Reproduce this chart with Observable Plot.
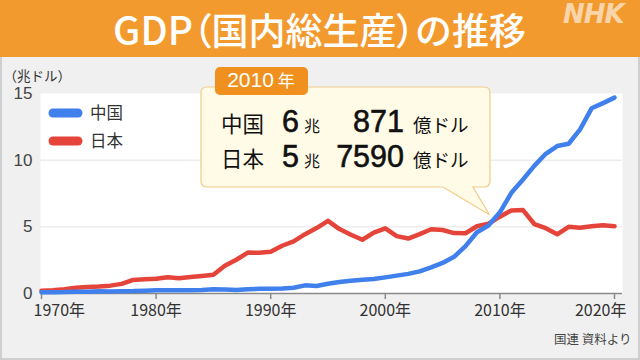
<!DOCTYPE html>
<html><head><meta charset="utf-8">
<script src="https://cdn.jsdelivr.net/npm/d3@7"></script>
<script src="https://cdn.jsdelivr.net/npm/@observablehq/plot@0.6"></script>
<style>
body{margin:0;background:#f0f0f0;}
#wrap{position:relative;width:640px;height:360px;background:#f0f0f0;overflow:hidden;font-family:"Noto Sans CJK JP","Noto Sans",sans-serif;}
#header{position:absolute;left:0;top:0;width:640px;height:57px;background:#f39a2f;}
#title{position:absolute;left:0;top:0;width:639px;height:56px;line-height:56px;text-align:center;color:#fff;font-size:37px;font-weight:500;white-space:nowrap;}
#title .p{font-feature-settings:"palt";}
#title .lat{font-size:39px;}
#nhk{position:absolute;left:563px;top:-1px;color:rgba(255,255,255,0.6);font:italic 900 26px "DejaVu Sans",sans-serif;letter-spacing:-1px;}
#chart{position:absolute;left:0;top:57px;}
#frameBorder{position:absolute;left:0;top:57px;width:640px;height:303px;box-sizing:border-box;border:2px solid #cfcfcf;border-top:none;pointer-events:none;}
#overlay{position:absolute;left:0;top:0;pointer-events:none;}
</style>
</head><body>
<div id="wrap">
  <div id="header"><div id="title"><span class="lat">GDP</span><span class="p">（</span>国内総生産<span class="p">）</span>の推移</div><div id="nhk">NHK</div></div>
  <div id="chart"></div>
  <div id="frameBorder"></div>
</div>
<script>
// ---- data (trillion US$) ----
const years = d3.range(1970, 2021);
const china = [0.09,0.10,0.11,0.14,0.14,0.16,0.15,0.17,0.18,0.21,
               0.24,0.25,0.24,0.25,0.27,0.31,0.30,0.27,0.31,0.35,
               0.36,0.38,0.43,0.61,0.56,0.73,0.86,0.96,1.03,1.09,
               1.21,1.34,1.47,1.66,1.96,2.29,2.75,3.55,4.59,5.10,
               6.09,7.55,8.53,9.57,10.48,11.06,11.23,12.31,13.89,14.28,
               14.69];
const japan = [0.21,0.24,0.32,0.43,0.48,0.52,0.59,0.72,1.02,1.06,
               1.10,1.22,1.14,1.24,1.32,1.40,2.08,2.53,3.07,3.05,
               3.13,3.58,3.91,4.45,4.91,5.45,4.83,4.41,4.03,4.56,
               4.89,4.30,4.12,4.45,4.82,4.76,4.53,4.52,5.04,5.23,
               5.76,6.23,6.27,5.21,4.90,4.44,5.00,4.93,5.04,5.12,
               5.04];
const seriesNames = ["中国", "日本"];
const xTicks = [1970, 1980, 1990, 2000, 2010, 2020];
const yTicks = [0, 5, 10, 15];
const gridValues = [5, 10];
const yLabel = "（兆ドル）";
const caption = "国連 資料より";
const calloutYear = 2010;
const calloutRows = [
  {name: "中国", cho: "6", oku: "871"},
  {name: "日本", cho: "5", oku: "7590"}
];

const colors = {"中国": "#3f80ec", "日本": "#e4443a"};
const font = '"Noto Sans CJK JP","Noto Sans",sans-serif';
const numFont = '"Liberation Sans",Arial,sans-serif';

const chinaData = years.map((y, i) => ({year: y, value: china[i]}));
const japanData = years.map((y, i) => ({year: y, value: japan[i]}));

const midTicks = xTicks.slice(1, -1);

const chart = Plot.plot({
  width: 640, height: 303,
  marginLeft: 40, marginRight: 18, marginTop: 36, marginBottom: 67,
  insetLeft: 1, insetRight: 8,
  x: {domain: [1970, 2020], axis: null},
  y: {domain: [0, 15], axis: null},
  style: {background: "transparent", fontFamily: font, overflow: "visible"},
  marks: [
    Plot.frame({fill: "white", stroke: null}),
    Plot.ruleY(gridValues, {stroke: "#e4e4e4", strokeWidth: 1}),
    Plot.text(yTicks, {frameAnchor: "left", y: d => d, text: d => String(d), textAnchor: "end", dx: -8, fontSize: 17, fill: "#444", fontFamily: numFont}),
    Plot.ruleY([0], {stroke: "#8a8a8a", strokeWidth: 1.5}),
    Plot.ruleX(xTicks, {x: d => d, y1: 0, y2: 0, insetBottom: -6, stroke: "#8a8a8a", strokeWidth: 1.5}),
    Plot.text(midTicks, {x: d => d, y: 0, dy: 17, text: d => d + "年", fontSize: 16, fill: "#333"}),
    Plot.text([xTicks[0]], {x: d => d, y: 0, dy: 17, text: d => d + "年", textAnchor: "start", dx: -8, fontSize: 16, fill: "#333"}),
    Plot.text([xTicks[xTicks.length - 1]], {x: d => d, y: 0, dy: 17, text: d => d + "年", textAnchor: "end", dx: 12, fontSize: 16, fill: "#333"}),
    Plot.text([yLabel], {frameAnchor: "top-left", text: d => d, textAnchor: "start", dx: -37, dy: -22, fontSize: 13.5, fill: "#333"}),
    Plot.text([caption], {frameAnchor: "bottom-right", text: d => d, textAnchor: "end", dx: 9, dy: 50, fontSize: 12.5, fill: "#444"}),
    Plot.line(japanData, {x: "year", y: "value", stroke: colors["日本"], strokeWidth: 4.5, strokeLinejoin: "round", strokeLinecap: "round"}),
    Plot.line(chinaData, {x: "year", y: "value", stroke: colors["中国"], strokeWidth: 4.5, strokeLinejoin: "round", strokeLinecap: "round"})
  ]
});
document.getElementById("chart").appendChild(chart);

// ---- overlay: legend + callout ----
const top0 = 57;
const xs = chart.scale("x"), ys = chart.scale("y");
const svg = d3.select("#wrap").append("svg")
  .attr("id", "overlay").attr("width", 640).attr("height", 360)
  .style("font-family", font);

// legend
seriesNames.forEach((name, i) => {
  const yy = 113 + i * 28;
  svg.append("line").attr("x1", 53).attr("x2", 78).attr("y1", yy).attr("y2", yy)
    .attr("stroke", colors[name]).attr("stroke-width", 9).attr("stroke-linecap", "round");
  svg.append("text").attr("x", 90).attr("y", yy).attr("dy", "0.36em")
    .attr("font-size", 16.5).attr("fill", "#333").text(name);
});

// callout box with tail pointing at the 2010 values
const ci = years.indexOf(calloutYear);
const tipX = xs.apply(calloutYear) - 10;
const tipY = ys.apply(china[ci]) + top0 + 3;
const L = 201, R = 490, T = 87, B = 187, r = 6, t1 = 443, t2 = 473;
svg.append("path")
  .attr("d", `M${L + r},${T} H${R - r} Q${R},${T} ${R},${T + r} V${B - r} Q${R},${B} ${R - r},${B} H${t2} L${tipX},${tipY} L${t1},${B} H${L + r} Q${L},${B} ${L},${B - r} V${T + r} Q${L},${T} ${L + r},${T} Z`)
  .attr("fill", "#fffbe7").attr("stroke", "#f0cc88").attr("stroke-width", 1.2);

svg.append("rect").attr("x", 215).attr("y", 67).attr("width", 93).attr("height", 28).attr("rx", 5)
  .attr("fill", "#f0911f");
const lab = svg.append("text").attr("x", 261).attr("y", 81).attr("dy", "0.36em")
  .attr("text-anchor", "middle").attr("fill", "#fff");
lab.append("tspan").attr("font-size", 21).attr("font-family", numFont).text(String(calloutYear));
lab.append("tspan").attr("font-size", 17).attr("dx", 4).text("年");

calloutRows.forEach((row, i) => {
  const base = 131.5 + i * 35;
  svg.append("text").attr("x", 221).attr("y", base).attr("font-size", 21.5).attr("fill", "#111").text(row.name);
  svg.append("text").attr("x", 299).attr("y", base).attr("text-anchor", "end").attr("font-size", 30.5).attr("font-family", numFont).attr("fill", "#111").attr("stroke", "#111").attr("stroke-width", 0.6).text(row.cho);
  svg.append("text").attr("x", 304).attr("y", base).attr("font-size", 16).attr("fill", "#111").text("兆");
  svg.append("text").attr("x", 404).attr("y", base).attr("text-anchor", "end").attr("font-size", 30.5).attr("font-family", numFont).attr("fill", "#111").attr("stroke", "#111").attr("stroke-width", 0.6).text(row.oku);
  svg.append("text").attr("x", 413).attr("y", base).attr("font-size", 18.5).attr("fill", "#111").text("億ドル");
});
</script>
</body></html>
